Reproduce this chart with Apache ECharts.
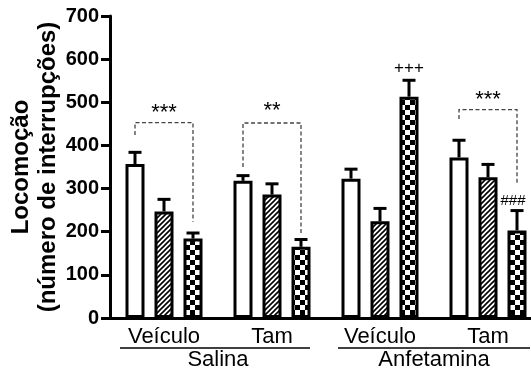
<!DOCTYPE html>
<html><head><meta charset="utf-8">
<script src="https://cdn.jsdelivr.net/npm/echarts@6/dist/echarts.min.js"></script>
<style>html,body{margin:0;padding:0;background:#fff}#c{width:531px;height:376px}</style>
</head><body><div id="c"></div>
<script>
const categories = ['Veículo', 'Tam', 'Veículo', 'Tam'];
const groupLabels = ['Salina', 'Anfetamina'];
const whiteMean = [357, 318, 323, 372];
const whiteErr  = [27, 12, 22, 40];
const hatchMean = [247, 286, 224, 326];
const hatchErr  = [28, 25, 30, 30];
const checkMean = [184, 165, 513, 203];
const checkErr  = [13, 17, 38, 46];
// brackets: [category, fromBar, toBar, topValue, leftEndValue, rightEndValue, label, labelValue]
const brackets = [
  [0, 0, 2, 453, 424, 223, '***', 476],
  [1, 0, 2, 452, 350, 197, '**', 479],
  [3, 0, 2, 483, 461, 308, '***', 506]
];
// single marks: [category, bar, value, label]
const marks = [
  [2, 2, 578, '+++'],
  [3, 2, 271, '###']
];

const FONT = '"Liberation Sans", Arial, sans-serif';
const BAR_W = 19, BAR_STEP = 29;

function hatchPattern() {
  const c = document.createElement('canvas');
  c.width = 5; c.height = 5;
  const g = c.getContext('2d');
  g.fillStyle = '#fff'; g.fillRect(0, 0, 5, 5);
  g.strokeStyle = '#000'; g.lineWidth = 1.6;
  g.beginPath();
  g.moveTo(-1, 6); g.lineTo(6, -1);
  g.moveTo(-1, 1); g.lineTo(1, -1);
  g.moveTo(4, 6); g.lineTo(6, 4);
  g.stroke();
  return c;
}
function checkPattern() {
  const c = document.createElement('canvas');
  c.width = 10; c.height = 10;
  const g = c.getContext('2d');
  g.fillStyle = '#fff'; g.fillRect(0, 0, 10, 10);
  g.fillStyle = '#000';
  g.fillRect(0, 0, 5, 5); g.fillRect(5, 5, 5, 5);
  return c;
}

const errData = [];
[[whiteMean, whiteErr], [hatchMean, hatchErr], [checkMean, checkErr]].forEach((pair, b) => {
  pair[0].forEach((m, i) => errData.push([i, b, m, pair[1][i]]));
});

const chart = echarts.init(document.getElementById('c'));
const barStyle = (color) => ({ color: color, borderColor: '#000', borderWidth: 3 });

chart.setOption({
  animation: false,
  grid: { left: 110, top: 16, width: 432, height: 302, containLabel: false, outerBoundsMode: 'none' },
  xAxis: [{
    type: 'category', data: categories, gridIndex: 0,
    axisLine: { lineStyle: { color: '#000', width: 3 } },
    axisTick: { show: false },
    axisLabel: { color: '#000', fontSize: 22, fontFamily: FONT, margin: 8 }
  }, {
    type: 'category', data: groupLabels, gridIndex: 0, position: 'bottom',
    axisLine: { show: false }, axisTick: { show: false },
    axisLabel: { color: '#000', fontSize: 22, fontFamily: FONT, margin: 31 }
  }],
  yAxis: {
    type: 'value', min: 0, max: 700, interval: 100,
    name: 'Locomoção\n(número de interrupções)',
    nameLocation: 'middle', nameRotate: 90, nameGap: 48, nameMoveOverlap: false,
    nameTextStyle: { color: '#000', fontSize: 24, fontWeight: 'bold', fontFamily: FONT, lineHeight: 27 },
    axisLine: { show: true, lineStyle: { color: '#000', width: 3 } },
    axisTick: { show: true, inside: false, length: 9, lineStyle: { color: '#000', width: 3 } },
    axisLabel: { color: '#000', fontSize: 20, fontWeight: 'bold', fontFamily: FONT, margin: 11 },
    splitLine: { show: false }
  },
  series: [
    { type: 'bar', data: whiteMean, barWidth: BAR_W, barGap: ((BAR_STEP - BAR_W) / BAR_W * 100) + '%', itemStyle: barStyle('#fff') },
    { type: 'bar', data: hatchMean, barWidth: BAR_W, itemStyle: barStyle({ image: hatchPattern(), repeat: 'repeat' }) },
    { type: 'bar', data: checkMean, barWidth: BAR_W, itemStyle: barStyle({ image: checkPattern(), repeat: 'repeat' }) },
    {
      type: 'custom', data: errData, clip: false, z: 5,
      renderItem: function (params, api) {
        const cat = api.value(0), b = api.value(1), m = api.value(2), e = api.value(3);
        const base = api.coord([cat, m]);
        const top = api.coord([cat, m + e]);
        const x = base[0] + (b - 1) * BAR_STEP;
        return { type: 'group', children: [
          { type: 'line', shape: { x1: x, y1: base[1], x2: x, y2: top[1] }, style: { stroke: '#000', lineWidth: 3 } },
          { type: 'line', shape: { x1: x - 6.5, y1: top[1], x2: x + 6.5, y2: top[1] }, style: { stroke: '#000', lineWidth: 3 } }
        ] };
      }
    },
    {
      type: 'custom', data: brackets.map(d => d.slice(0, 6).concat([d[7]])), clip: false, z: 6,
      renderItem: function (params, api) {
        const d = brackets[params.dataIndex];
        const c = api.coord([d[0], d[3]]);
        const xl = c[0] + (d[1] - 1) * BAR_STEP, xr = c[0] + (d[2] - 1) * BAR_STEP;
        const yt = c[1];
        const yl = api.coord([d[0], d[4]])[1], yr = api.coord([d[0], d[5]])[1];
        const ty = api.coord([d[0], d[7]])[1];
        return { type: 'group', children: [
          { type: 'polyline', shape: { points: [[xl, yl], [xl, yt], [xr, yt], [xr, yr]] },
            style: { stroke: '#444', lineWidth: 1.3, lineDash: [4, 2.5], fill: null } },
          { type: 'text', x: (xl + xr) / 2, y: ty,
            style: { text: d[6], fill: '#000', font: '22px ' + FONT, align: 'center', verticalAlign: 'middle' } }
        ] };
      }
    },
    {
      type: 'custom', data: marks.map(d => [d[0], d[1], d[2]]), clip: false, z: 6,
      renderItem: function (params, api) {
        const d = marks[params.dataIndex];
        const c = api.coord([d[0], d[2]]);
        const x = c[0] + (d[1] - 1) * BAR_STEP;
        const small = d[3] === '###';
        return { type: 'text', x: small ? x - 4 : x, y: c[1],
          style: { text: d[3], fill: '#000', font: (small ? '15px ' : '17px ') + FONT, align: 'center', verticalAlign: 'middle' } };
      }
    }
  ]
});

// group underlines, positioned from the category axis
const cx = categories.map((_, i) => chart.convertToPixel({ xAxisIndex: 0 }, i));
const yLine = chart.convertToPixel({ yAxisIndex: 0 }, 0) + 30;
chart.setOption({
  graphic: [
    { type: 'line', shape: { x1: cx[0] - 44, y1: yLine, x2: cx[1] + 38, y2: yLine }, style: { stroke: '#000', lineWidth: 1.6 } },
    { type: 'line', shape: { x1: cx[2] - 42, y1: yLine, x2: cx[3] + 42, y2: yLine }, style: { stroke: '#000', lineWidth: 1.6 } }
  ]
});
</script></body></html>
